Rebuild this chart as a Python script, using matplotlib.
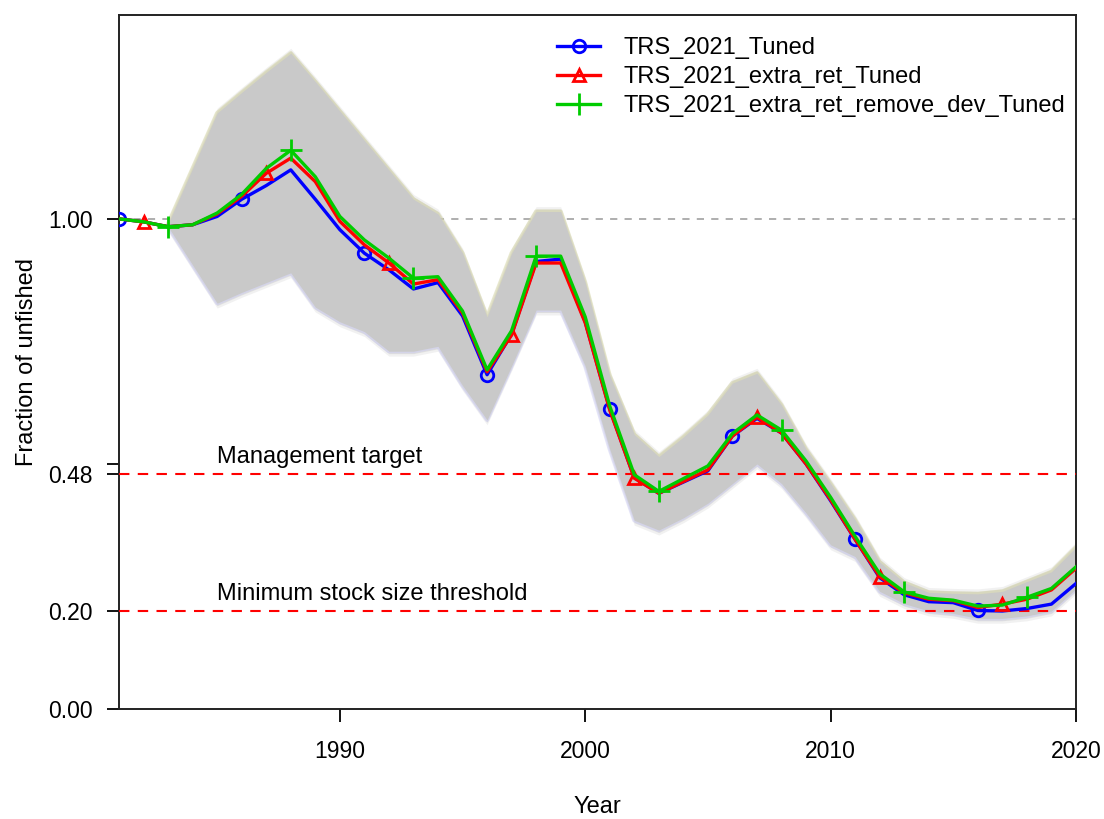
import numpy as np
import matplotlib.pyplot as plt
import matplotlib as mpl

mpl.rcParams['font.family'] = ['Liberation Sans', 'DejaVu Sans']

# spawning output relative to unfished, by model run
years = np.arange(1981, 2021)

tuned = [1.000, 0.994, 0.984, 0.988, 1.005, 1.040, 1.068, 1.100, 1.040, 0.978,
         0.930, 0.896, 0.857, 0.870, 0.802, 0.682, 0.765, 0.913, 0.918, 0.790,
         0.612, 0.472, 0.440, 0.463, 0.486, 0.557, 0.593, 0.563, 0.500, 0.425,
         0.346, 0.268, 0.233, 0.219, 0.217, 0.201, 0.200, 0.205, 0.214, 0.256]

extra_ret = [1.000, 0.994, 0.984, 0.988, 1.010, 1.046, 1.093, 1.124, 1.076, 0.995,
             0.947, 0.910, 0.867, 0.876, 0.808, 0.688, 0.763, 0.910, 0.910, 0.788,
             0.610, 0.471, 0.440, 0.464, 0.488, 0.557, 0.595, 0.563, 0.500, 0.427,
             0.346, 0.270, 0.237, 0.224, 0.221, 0.207, 0.214, 0.224, 0.243, 0.287]

remove_dev = [1.000, 0.994, 0.984, 0.988, 1.012, 1.050, 1.103, 1.140, 1.086, 1.005,
              0.957, 0.920, 0.879, 0.882, 0.812, 0.692, 0.772, 0.924, 0.924, 0.800,
              0.618, 0.478, 0.444, 0.470, 0.496, 0.562, 0.600, 0.569, 0.506, 0.432,
              0.352, 0.276, 0.239, 0.226, 0.222, 0.210, 0.212, 0.228, 0.246, 0.290]

# 95% interval envelope
ci_upper = [1.000, 0.994, 0.990, 1.103, 1.216, 1.258, 1.299, 1.338, 1.280, 1.220,
            1.160, 1.100, 1.040, 1.010, 0.930, 0.800, 0.930, 1.015, 1.015, 0.870,
            0.680, 0.560, 0.515, 0.555, 0.600, 0.665, 0.685, 0.620, 0.530, 0.460,
            0.386, 0.300, 0.258, 0.238, 0.236, 0.235, 0.240, 0.260, 0.280, 0.330]
ci_lower = [1.000, 0.994, 0.984, 0.906, 0.828, 0.850, 0.870, 0.890, 0.820, 0.790,
            0.770, 0.730, 0.730, 0.740, 0.660, 0.590, 0.700, 0.814, 0.814, 0.700,
            0.530, 0.385, 0.365, 0.390, 0.420, 0.460, 0.500, 0.460, 0.400, 0.335,
            0.311, 0.240, 0.215, 0.200, 0.195, 0.185, 0.185, 0.190, 0.200, 0.245]

labels = ['TRS_2021_Tuned', 'TRS_2021_extra_ret_Tuned',
          'TRS_2021_extra_ret_remove_dev_Tuned']
btarg = 0.48
minbthresh = 0.20

fig = plt.figure(figsize=(11.04, 8.19), dpi=100)
ax = fig.add_axes([0.1078, 0.1343, 0.8668, 0.8474])

ax.axhline(1.0, color='#a8a8a8', lw=1.3, ls=(0, (4, 4)), zorder=1)

# interval shading, feathered edges
up = np.array(ci_upper)
lo = np.array(ci_lower)
for d, a in [(0.010, 0.25), (0.005, 0.45)]:
    ax.fill_between(years[2:], lo[2:] - d, up[2:] + d, color='#c9c9c9', alpha=a, lw=0, zorder=2)
ax.plot(years[2:], up[2:], color='#d2d2a0', lw=3, alpha=0.5, zorder=2)
ax.plot(years[2:], lo[2:], color='#cbcbf2', lw=3, alpha=0.5, zorder=2)
ax.fill_between(years, lo, up, color='#c9c9c9', lw=0, zorder=2)

for lvl in (btarg, minbthresh):
    ax.axhline(lvl, color='red', lw=1.5, ls=(0, (5, 4)), zorder=3)
ax.text(1985, btarg + 0.012, 'Management target', fontsize=17, va='bottom')
ax.text(1985, minbthresh + 0.012, 'Minimum stock size threshold', fontsize=17, va='bottom')

styles = [('blue', 'o', 0), ('red', '^', 1), ('#00cc00', '+', 2)]
for series, lab, (col, mk, off) in zip([tuned, extra_ret, remove_dev], labels, styles):
    ax.plot(years, series, color=col, lw=2.4, zorder=4, label=lab,
            marker=mk, markevery=slice(off, None, 5), markersize=9 if mk != '+' else 16,
            markerfacecolor='none', markeredgecolor=col, markeredgewidth=2)

ax.set_xlim(1981, 2020)
ax.set_ylim(0, 1.416)
ax.set_xticks([1990, 2000, 2010, 2020])
ax.set_yticks([0, 0.2, 0.48, 0.5, 1.0])
ax.set_yticklabels(['0.00', '0.20', '0.48', '', '1.00'])
ax.tick_params(length=9, width=1.3, labelsize=16.5)
ax.tick_params(axis='x', pad=13)
ax.tick_params(axis='y', pad=10)
for sp in ax.spines.values():
    sp.set_linewidth(1.4)
    sp.set_color('#222222')

ax.set_xlabel('Year', fontsize=17, labelpad=24)
ax.set_ylabel('Fraction of unfished', fontsize=17, labelpad=7)

ax.legend(loc='upper right', bbox_to_anchor=(1.011, 0.999), frameon=False,
          fontsize=17, handlelength=1.8, handletextpad=1.0, labelspacing=0.3,
          borderaxespad=0.5)

fig.savefig('out.png', dpi=100)
